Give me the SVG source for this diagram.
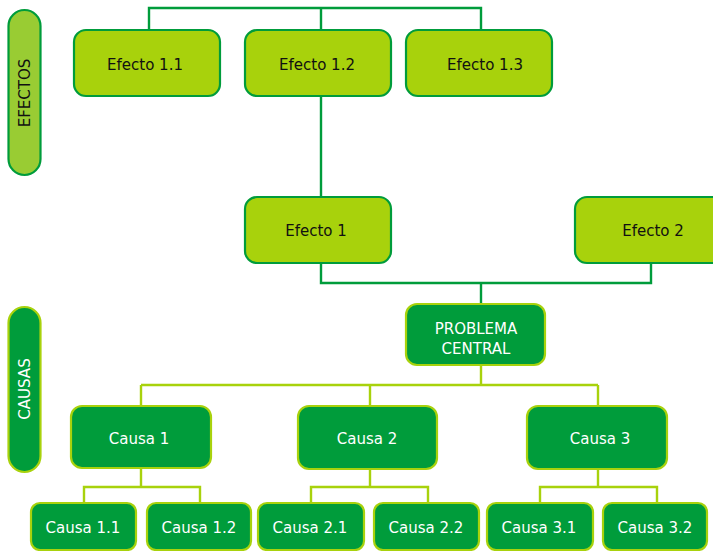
<svg xmlns="http://www.w3.org/2000/svg" width="713" height="551" viewBox="0 0 713 551">
<style>
.ef{fill:#a8d20c;stroke:#009c3b;stroke-width:2.2}
.efp{fill:#99cc33;stroke:#009c3b;stroke-width:2.2}
.ca{fill:#009c3b;stroke:#a8d20c;stroke-width:2.2}
.tk{font-family:"DejaVu Sans",sans-serif;font-size:15px;fill:#111;text-anchor:middle}
.tw{font-family:"DejaVu Sans",sans-serif;font-size:15px;fill:#fff;text-anchor:middle}
.c1{fill:none;stroke:#009c3b;stroke-width:2.4}
.c2{fill:none;stroke:#a8d20c;stroke-width:2.4}
</style>
<rect width="713" height="551" fill="#fff"/>
<g id="connectors">
<path class="c1" d="M149,30V8H481V30M321,8V30M321,96V197M321,263V283H651V263M481,283V304"/>
<path class="c2" d="M481,365V385M141,385H598M141,385V406M370,385V406M598,385V406"/>
<path class="c2" d="M141,468V487M84,503V487H200V503"/>
<path class="c2" d="M370,469V487M311,503V487H428V503"/>
<path class="c2" d="M598,469V487M540,503V487H657V503"/>
</g>
<g id="efectos-label"><rect class="efp" x="8.5" y="10" width="32" height="165" rx="16"/><text class="tk" transform="translate(30,93) rotate(-90)">EFECTOS</text></g>
<g id="efecto11"><rect class="ef" x="74" y="30" width="146" height="66" rx="12"/><text class="tk" x="145" y="70">Efecto 1.1</text></g>
<g id="efecto12"><rect class="ef" x="245" y="30" width="146" height="66" rx="12"/><text class="tk" x="317" y="70">Efecto 1.2</text></g>
<g id="efecto13"><rect class="ef" x="406" y="30" width="146" height="66" rx="12"/><text class="tk" x="485" y="70">Efecto 1.3</text></g>
<g id="efecto1"><rect class="ef" x="245" y="197" width="146" height="66" rx="12"/><text class="tk" x="316" y="236">Efecto 1</text></g>
<g id="efecto2"><rect class="ef" x="575" y="197" width="150" height="66" rx="12"/><text class="tk" x="653" y="236">Efecto 2</text></g>
<g id="problema"><rect class="ca" x="406" y="304" width="139" height="61" rx="11"/><text class="tw" x="476" y="334">PROBLEMA</text><text class="tw" x="476" y="354">CENTRAL</text></g>
<g id="causas-label"><rect class="ca" x="8.5" y="307" width="32" height="165" rx="16"/><text class="tw" transform="translate(30,389) rotate(-90)">CAUSAS</text></g>
<g id="causa1"><rect class="ca" x="71" y="406" width="140" height="62" rx="11"/><text class="tw" x="139" y="444">Causa 1</text></g>
<g id="causa2"><rect class="ca" x="298" y="406" width="139" height="63" rx="11"/><text class="tw" x="367" y="444">Causa 2</text></g>
<g id="causa3"><rect class="ca" x="527" y="406" width="140" height="63" rx="11"/><text class="tw" x="600" y="444">Causa 3</text></g>
<g id="causa11"><rect class="ca" x="31" y="503" width="105" height="47" rx="9"/><text class="tw" x="83" y="533">Causa 1.1</text></g>
<g id="causa12"><rect class="ca" x="147" y="503" width="104" height="47" rx="9"/><text class="tw" x="199" y="533">Causa 1.2</text></g>
<g id="causa21"><rect class="ca" x="258" y="503" width="106" height="47" rx="9"/><text class="tw" x="310" y="533">Causa 2.1</text></g>
<g id="causa22"><rect class="ca" x="374" y="503" width="105" height="47" rx="9"/><text class="tw" x="426" y="533">Causa 2.2</text></g>
<g id="causa31"><rect class="ca" x="487" y="503" width="106" height="47" rx="9"/><text class="tw" x="539" y="533">Causa 3.1</text></g>
<g id="causa32"><rect class="ca" x="603" y="503" width="104" height="47" rx="9"/><text class="tw" x="655" y="533">Causa 3.2</text></g>
</svg>
